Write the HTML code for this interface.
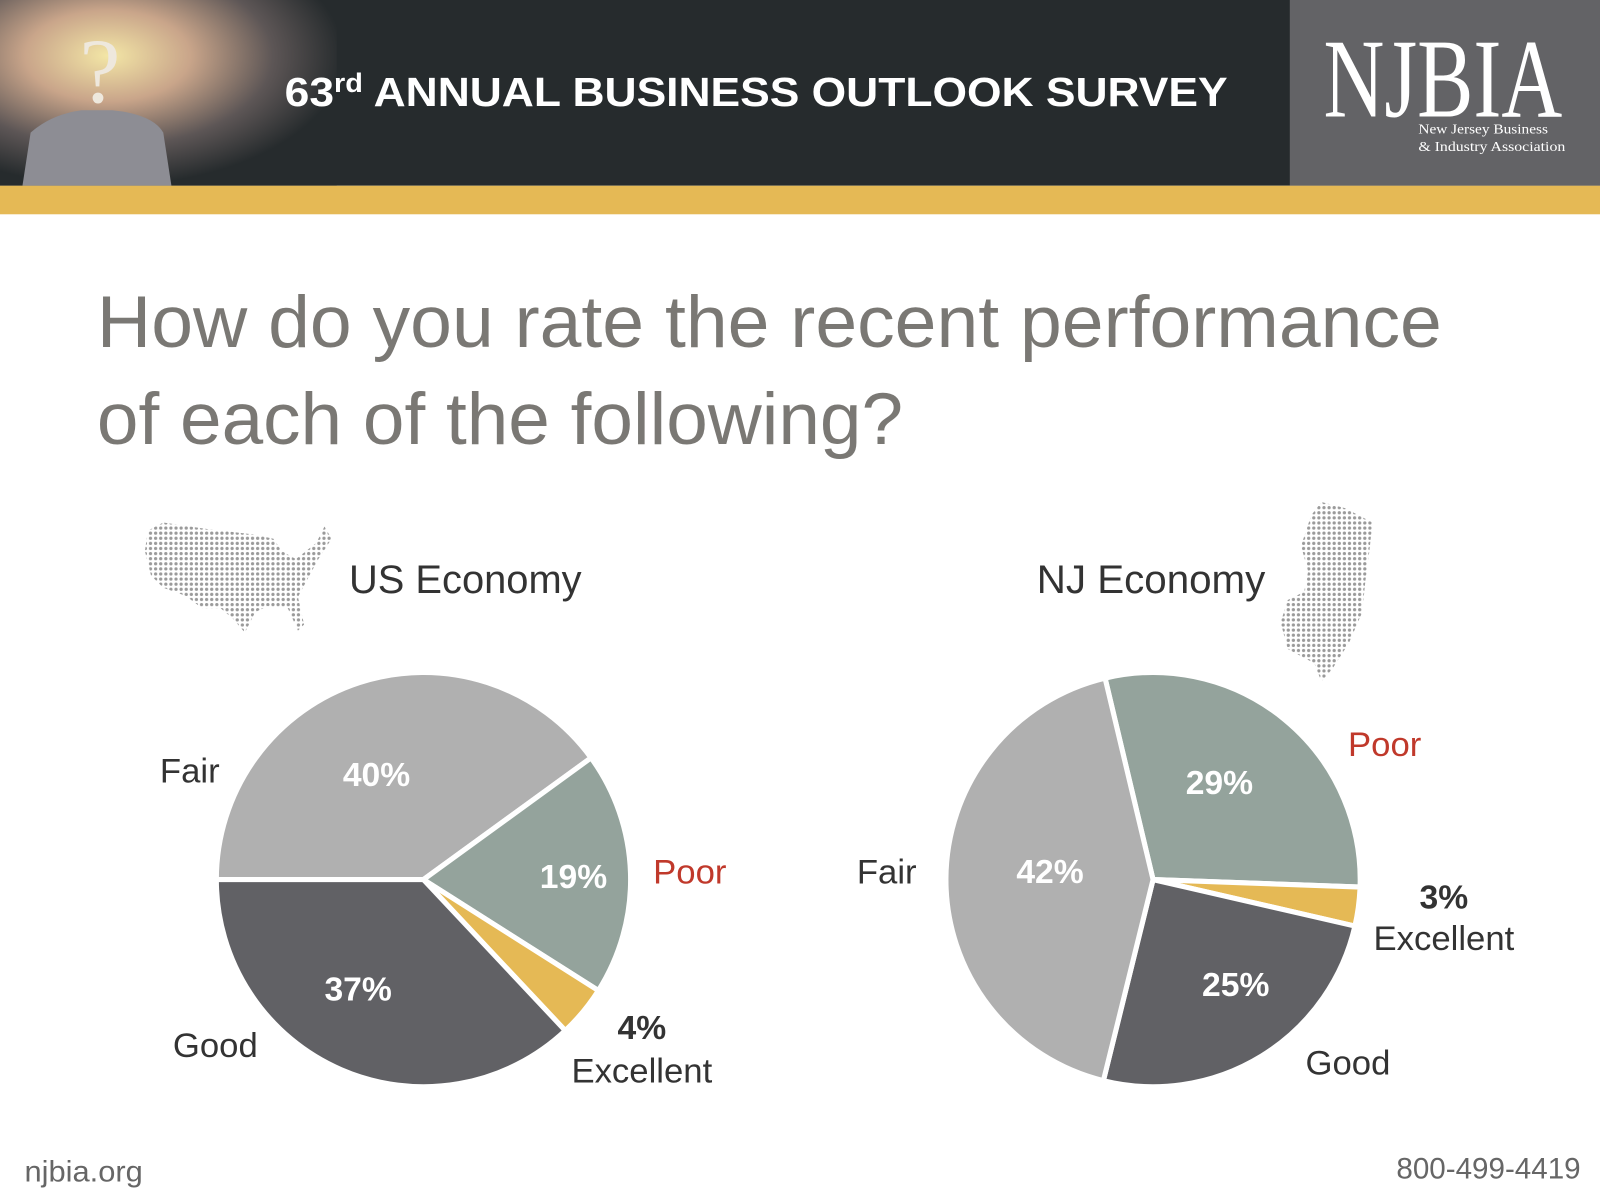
<!DOCTYPE html>
<html><head><meta charset="utf-8"><style>
html,body{margin:0;padding:0;background:#fff;width:1600px;height:1200px;overflow:hidden}
svg{display:block;font-family:"Liberation Sans",Arial,sans-serif}
</style></head><body>
<svg id="chart" width="1600" height="1200" viewBox="0 0 1568 1176">
<defs>
<radialGradient id="glow" cx="0.32" cy="0.3" r="0.7">
<stop offset="0" stop-color="#f3e6a6"/><stop offset="0.35" stop-color="#c9a58a"/><stop offset="0.7" stop-color="#5d5656"/><stop offset="1" stop-color="#262b2d"/>
</radialGradient>
<pattern id="dots" width="5" height="5" patternUnits="userSpaceOnUse"><circle cx="2.5" cy="2.5" r="1.6" fill="#9a9a9a"/></pattern>
</defs>
<rect x="0" y="0" width="1568" height="182" fill="#262b2d"/>
<rect x="0" y="0" width="330" height="182" fill="url(#glow)"/>
<path d="M22,182 L30,130 Q50,112 80,108 L110,108 Q150,112 160,130 L168,182 Z" fill="#8d8d94"/>
<text x="98" y="100" font-size="90" fill="#eee8dd" text-anchor="middle" font-family="Liberation Serif,serif">?</text>
<rect x="1264" y="0" width="304" height="182" fill="#636366"/>
<rect x="0" y="182" width="1568" height="28" fill="#e5b955"/>
<text x="279" y="104" font-size="40" font-weight="bold" fill="#fff" textLength="924" lengthAdjust="spacingAndGlyphs">63<tspan font-size="26" dy="-14">rd</tspan><tspan dy="14"> ANNUAL BUSINESS OUTLOOK SURVEY</tspan></text>
<text x="1297" y="114" font-size="110" fill="#fff" font-family="Liberation Serif,serif" textLength="234" lengthAdjust="spacingAndGlyphs">NJBIA</text>
<text x="1390" y="131" font-size="13" fill="#fff" font-family="Liberation Serif,serif" textLength="127" lengthAdjust="spacingAndGlyphs">New Jersey Business</text>
<text x="1390" y="148" font-size="13" fill="#fff" font-family="Liberation Serif,serif" textLength="144" lengthAdjust="spacingAndGlyphs">&amp; Industry Association</text>
<text x="95" y="340" font-size="72" fill="#7a7874" textLength="1318" lengthAdjust="spacingAndGlyphs">How do you rate the recent performance</text>
<text x="95" y="435" font-size="72" fill="#7a7874" textLength="790" lengthAdjust="spacingAndGlyphs">of each of the following?</text>
<path d="M145,520 L160,512 L200,518 L250,524 L268,528 L276,540 L290,548 L310,532 L318,516 L325,528 L312,548 L300,570 L292,585 L298,612 L292,618 L282,596 L262,594 L250,600 L240,620 L228,606 L216,596 L198,596 L182,584 L160,576 L148,564 L142,540 Z" fill="url(#dots)"/>
<path d="M1295,492 L1318,498 L1345,512 L1342,540 L1338,570 L1335,600 L1322,630 L1306,655 L1295,668 L1288,650 L1262,636 L1255,610 L1262,588 L1278,580 L1282,560 L1275,535 L1285,505 Z" fill="url(#dots)"/>
<text x="342" y="581" font-size="39" fill="#333" textLength="228" lengthAdjust="spacingAndGlyphs">US Economy</text>
<text x="1016" y="581" font-size="39" fill="#333" textLength="224" lengthAdjust="spacingAndGlyphs">NJ Economy</text>
<g id="pies"></g>
<text x="24" y="1158" font-size="29" fill="#666" textLength="116" lengthAdjust="spacingAndGlyphs">njbia.org</text>
<text x="1549" y="1155" font-size="29" fill="#666" text-anchor="end">800-499-4419</text>
</svg>
<script>
const categories = ["Fair","Poor","Excellent","Good"];
const usValues = [40,19,4,37];
const njValues = [42,29,3,25];
const colors = ["#b0b0b0","#94a39c","#e5b955","#616165"];
const NS = "http://www.w3.org/2000/svg";
const g = document.getElementById("pies");
function mk(tag, attrs){const e=document.createElementNS(NS,tag);for(const k in attrs)e.setAttribute(k,attrs[k]);return e;}
function drawPie(id, cx, cy, r, values, startDeg, order){
  const total = values.reduce((a,b)=>a+b,0);
  let a = startDeg*Math.PI/180;
  order.forEach(i=>{
    const sweep = values[i]/total*2*Math.PI;
    const a2 = a+sweep;
    const x1=cx+r*Math.cos(a), y1=cy+r*Math.sin(a), x2=cx+r*Math.cos(a2), y2=cy+r*Math.sin(a2);
    const p = mk("path",{d:`M${cx},${cy} L${x1},${y1} A${r},${r} 0 ${sweep>Math.PI?1:0} 1 ${x2},${y2} Z`,fill:colors[i],stroke:"#fff","stroke-width":5,"stroke-linejoin":"round"});
    
    
    g.appendChild(p);
    a = a2;
  });
}
drawPie("us", 415, 862, 203, usValues, 180, [0,1,2,3]);
drawPie("nj", 1130, 862, 203, njValues, -103.4, [1,2,3,0]);
function label(id, txt, x, y, size, fill, bold){
  const t = mk("text",{x:x,y:y,"font-size":size,fill:fill,"text-anchor":"middle","dominant-baseline":"central"});
  if(bold) t.setAttribute("font-weight","bold");
  t.textContent = txt;
  
  
  g.appendChild(t);
}
label("us-fair-value", usValues[0]+"%", 369, 760, 33, "#fff", true);
label("us-poor-value", usValues[1]+"%", 562, 860, 33, "#fff", true);
label("us-good-value", usValues[3]+"%", 351, 970, 33, "#fff", true);
label("us-excellent-value", usValues[2]+"%", 629, 1008, 33, "#333", true);
label("us-excellent-label", "Excellent", 629, 1050, 34, "#333", false);
label("us-fair-label", "Fair", 186, 756, 34, "#333", false);
label("us-good-label", "Good", 211, 1025, 34, "#333", false);
label("us-poor-label", "Poor", 676, 855, 34, "#c0392b", false);
label("nj-poor-value", njValues[1]+"%", 1195, 768, 33, "#fff", true);
label("nj-fair-value", njValues[0]+"%", 1029, 855, 33, "#fff", true);
label("nj-good-value", njValues[3]+"%", 1211, 966, 33, "#fff", true);
label("nj-excellent-value", njValues[2]+"%", 1415, 880, 33, "#333", true);
label("nj-excellent-label", "Excellent", 1415, 920, 34, "#333", false);
label("nj-poor-label", "Poor", 1357, 730, 34, "#c0392b", false);
label("nj-fair-label", "Fair", 869, 855, 34, "#333", false);
label("nj-good-label", "Good", 1321, 1042, 34, "#333", false);
</script>
</body></html>
